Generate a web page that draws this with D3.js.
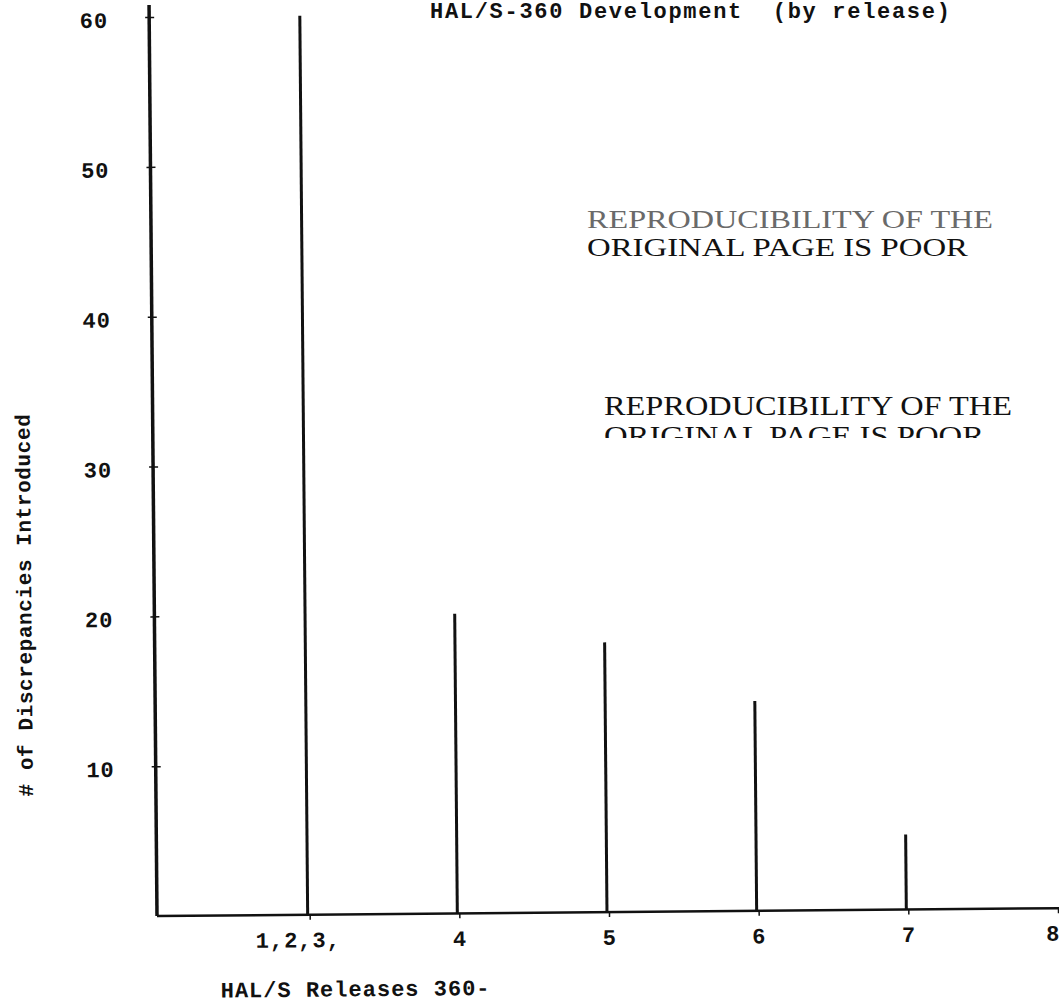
<!DOCTYPE html>
<html>
<head>
<meta charset="utf-8">
<script src="https://cdn.jsdelivr.net/npm/d3@7"></script>
<style>
  body { margin: 0; background: #fff; }
  svg { display: block; }
  .mono { font-family: "Liberation Mono", "DejaVu Sans Mono", monospace; font-weight: bold; fill: #111; }
  .stamp { font-family: "Liberation Serif", "DejaVu Serif", serif; fill: #111; }
</style>
</head>
<body>
<div id="chart"></div>
<script>
// releases (first slot groups 1,2,3) and discrepancies introduced
const releases = ["1,2,3,", "4", "5", "6", "7", "8"]
const discrepancies = [60, 20, 18, 14, 5, null]
const yTicks = [10, 20, 30, 40, 50, 60]

const titleText = "HAL/S-360 Development  (by release)"
const yTitle = "# of Discrepancies Introduced"
const xTitle = "HAL/S Releases 360-"
const stampLines = ["REPRODUCIBILITY OF THE", "ORIGINAL PAGE IS POOR"]

const width = 1059
const height = 1008
const originX = 157
const originY = 916

const svg = d3.select("#chart")
    .append("svg")
    .attr("width", width)
    .attr("height", height)

const x = d3.scaleLinear().domain([0, releases.length]).range([160, 1058])
const y = d3.scaleLinear().domain([0, 60]).range([originY, 17])

// the scanned page sits a little crooked
const plot = svg.append("g")
    .attr("transform", `rotate(-0.5, ${originX}, ${originY})`)

// axis lines
plot.append("line")
    .attr("x1", originX).attr("x2", originX)
    .attr("y1", originY).attr("y2", y(60) - 12)
    .attr("stroke", "#111").attr("stroke-width", 3.5)

plot.append("line")
    .attr("x1", originX).attr("x2", width + 20)
    .attr("y1", originY).attr("y2", originY)
    .attr("stroke", "#111").attr("stroke-width", 2.5)

// y ticks + labels
const yAxis = plot.append("g")
    .attr("transform", `translate(${originX},0)`)
    .call(d3.axisLeft(y).tickValues(yTicks).tickSize(5).tickPadding(36))
yAxis.select(".domain").remove()
yAxis.selectAll(".tick line").attr("x2", 5).attr("x1", -4).attr("stroke", "#111").attr("stroke-width", 1.5)
yAxis.selectAll(".tick text")
    .attr("class", "mono")
    .attr("dy", "0.45em")
    .style("font-size", "22px")
    .style("letter-spacing", "1px")

// x ticks + labels
const xAxis = plot.append("g")
    .attr("transform", `translate(0,${originY})`)
    .call(d3.axisBottom(x)
        .tickValues(d3.range(1, releases.length + 1))
        .tickFormat(i => releases[i - 1])
        .tickSize(5)
        .tickPadding(12))
xAxis.select(".domain").remove()
xAxis.selectAll(".tick line").attr("stroke", "#111").attr("stroke-width", 1.5)
xAxis.selectAll(".tick text")
    .attr("class", "mono")
    .attr("dx", (d, i) => i === 0 ? "-0.55em" : (i === releases.length - 1 ? "-0.25em" : 0))
    .style("font-size", "22px")
    .style("letter-spacing", "1px")

// bars drawn as stems
plot.append("g")
    .selectAll("line")
    .data(discrepancies.map((v, i) => ({ i: i + 1, v })).filter(d => d.v !== null))
    .join("line")
    .attr("x1", d => x(d.i) - 2).attr("x2", d => x(d.i) - 2)
    .attr("y1", y(0)).attr("y2", d => y(d.v))
    .attr("stroke", "#111")
    .attr("stroke-width", 3)

// axis titles
plot.append("text")
    .attr("class", "mono")
    .attr("transform", `translate(34, 604) rotate(-90)`)
    .attr("text-anchor", "middle")
    .style("font-size", "21px")
    .style("letter-spacing", "0.6px")
    .text(yTitle)

plot.append("text")
    .attr("class", "mono")
    .attr("x", 220)
    .attr("y", 998)
    .style("font-size", "22px")
    .style("letter-spacing", "1px")
    .text(xTitle)

// title
svg.append("text")
    .attr("class", "mono")
    .attr("x", 430)
    .attr("y", 18)
    .style("font-size", "22px")
    .style("letter-spacing", "1.7px")
    .style("white-space", "pre")
    .text(titleText)

// reproducibility stamps
const stamp1 = svg.append("g")
stamp1.selectAll("text")
    .data(stampLines)
    .join("text")
    .attr("class", "stamp")
    .attr("x", 587)
    .attr("y", (d, i) => 228 + i * 28)
    .attr("textLength", (d, i) => i === 0 ? 406 : 381)
    .attr("lengthAdjust", "spacingAndGlyphs")
    .style("font-size", "25px")
    .style("fill", (d, i) => i === 0 ? "#6a6a6a" : "#111")
    .text(d => d)

svg.append("clipPath").attr("id", "stampClip")
    .append("rect").attr("x", 0).attr("y", 0).attr("width", width).attr("height", 438)

const stamp2 = svg.append("g").attr("clip-path", "url(#stampClip)")
stamp2.selectAll("text")
    .data(stampLines)
    .join("text")
    .attr("class", "stamp")
    .attr("x", 604)
    .attr("y", (d, i) => 415 + i * 30)
    .attr("textLength", (d, i) => i === 0 ? 408 : 380)
    .attr("lengthAdjust", "spacingAndGlyphs")
    .style("font-size", "28px")
    .text(d => d)
</script>
</body>
</html>
